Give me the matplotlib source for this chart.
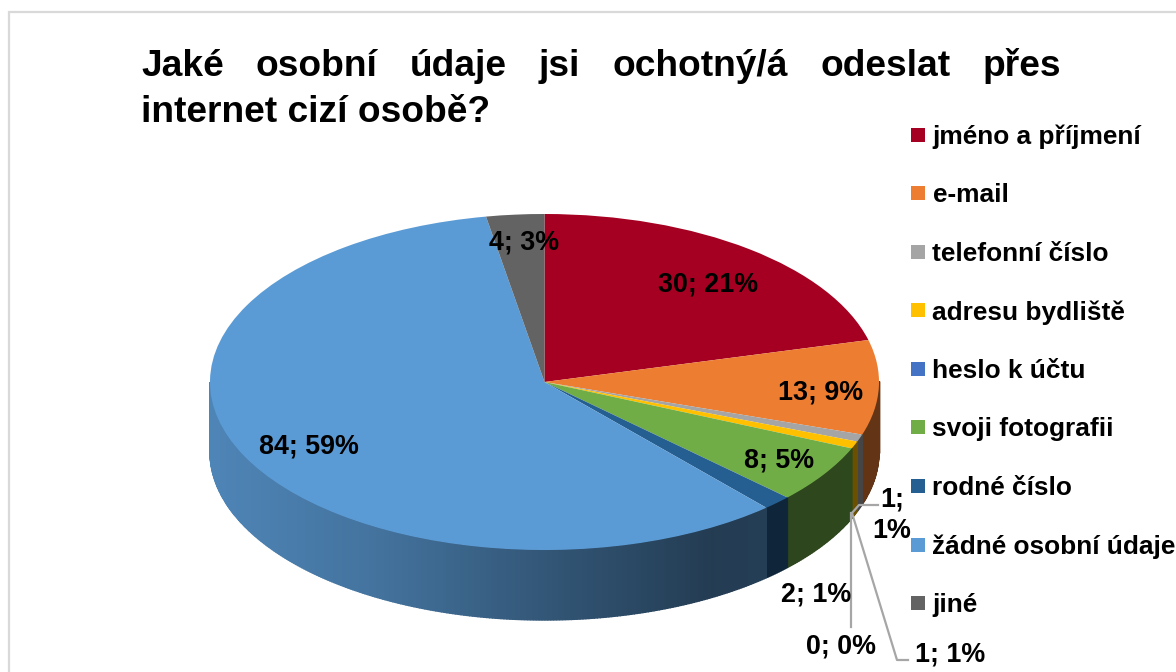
import numpy as np
import matplotlib
matplotlib.use("Agg")
import matplotlib.pyplot as plt
from matplotlib.lines import Line2D
from matplotlib.patches import Polygon

# ---- data ----
categories = ["jméno a příjmení", "e-mail", "telefonní číslo", "adresu bydliště",
              "heslo k účtu", "svoji fotografii", "rodné číslo",
              "žádné osobní údaje", "jiné"]
values = [30, 13, 1, 1, 0, 8, 2, 84, 4]
percents = [21, 9, 1, 1, 0, 5, 1, 59, 3]
colors = ["#A50021", "#ED7D31", "#A5A5A5", "#FFC000", "#4472C4",
          "#70AD47", "#255E91", "#5B9BD5", "#636363"]
title_line1 = ["Jaké", "osobní", "údaje", "jsi", "ochotný/á", "odeslat", "přes"]
title_line2 = "internet cizí osobě?"

# ---- layout (pixels of the 1176x672 canvas) ----
W, H = 1176, 672
CX, CY, RX, RY, DEPTH = 544.5, 382, 334.5, 168, 70
FONT = "Liberation Sans"

fig = plt.figure(figsize=(W / 100, H / 100), dpi=100, facecolor="white")
ax = fig.add_axes([0, 0, 1, 1])


def sx(px):
    return (px - CX) / RX


def sy(py):
    return (CY - py) / RY


# side wall, from the same slice angles as the top face
depth = DEPTH / RY
cum = np.concatenate([[0], np.cumsum(values)]) / sum(values) * 360
for i, col in enumerate(colors):
    a0, a1 = 90 - cum[i], 90 - cum[i + 1]
    if a0 == a1:
        continue
    edges = np.arange(a1, a0, 0.5)
    edges = np.append(edges, a0)
    base = np.array(matplotlib.colors.to_rgb(col))
    for t0, t1 in zip(edges[:-1], edges[1:]):
        mid = np.radians((t0 + t1) / 2)
        if np.sin(mid) > 0.001:
            continue
        shade = np.interp(np.cos(mid), [-1, -0.5, 0, 0.5, 1], [0.86, 0.74, 0.56, 0.39, 0.42])
        c = base * shade
        r0, r1 = np.radians(t0), np.radians(t1)
        pts = [(np.cos(r0), np.sin(r0)), (np.cos(r1), np.sin(r1)),
               (np.cos(r1), np.sin(r1) - depth), (np.cos(r0), np.sin(r0) - depth)]
        ax.add_patch(Polygon(pts, closed=True, facecolor=c, edgecolor=c, lw=1.0, zorder=1))

# top face
ax.pie(values, colors=colors, startangle=90, counterclock=False, radius=1,
       wedgeprops={"linewidth": 0, "zorder": 2})
ax.set_aspect("auto")
ax.set_xlim(sx(0), sx(W))
ax.set_ylim(sy(H), sy(0))
ax.axis("off")

# outer frame
ax.plot([sx(9), sx(9), sx(W)], [sy(H), sy(12), sy(12)], color="#D9D9D9", lw=1.6,
        solid_joinstyle="miter", zorder=0, clip_on=False)

# leader lines
LEADER = "#A6A6A6"
leaders = [([852, 859, 878], [513, 505, 505]),
           ([851, 851], [513, 627]),
           ([852, 897, 908], [513, 660, 660])]
for lx, ly in leaders:
    ax.plot(sx(np.array(lx)), sy(np.array(ly)), color=LEADER, lw=1.6, zorder=3)

# data labels
label_pos = [(708, 285), (821, 392), (950, 655), (892, 515), (841, 646),
             (779, 460), (816, 594), (309, 446), (524, 243)]
for i, (v, p) in enumerate(zip(values, percents)):
    txt = f"{v}; {p}%"
    if i == 3:
        txt = f"{v};\n{p}%"
    ax.text(sx(label_pos[i][0]), sy(label_pos[i][1]), txt, family=FONT, weight="bold",
            fontsize=19.4, ha="center", va="center", color="black", zorder=5,
            linespacing=1.28)

# legend
handles = [Line2D([], [], marker="s", linestyle="none", markersize=9.6,
                  markerfacecolor=c, markeredgecolor=c, markeredgewidth=0) for c in colors]
leg = ax.legend(handles, categories, loc="upper left",
                bbox_to_anchor=(911.5 / W, 1 - 124.5 / H), bbox_transform=fig.transFigure,
                frameon=False, borderpad=0, borderaxespad=0, handlelength=0.5,
                handletextpad=0.3, labelspacing=1.31, prop={"family": FONT, "weight": "bold", "size": 18.9})
leg.set_zorder(6)

# title: first line justified, as in the reference
TITLE_SIZE = 26.7
renderer = fig.canvas.get_renderer()
X0, X1 = 141, 1061
objs = [ax.text(0, sy(76), w, family=FONT, weight="bold", fontsize=TITLE_SIZE, color="black",
                ha="left", va="baseline", zorder=6) for w in title_line1]
widths = [o.get_window_extent(renderer).width for o in objs]
gap = (X1 - X0 - sum(widths)) / (len(objs) - 1)
pos = X0
for o, w in zip(objs, widths):
    o.set_x(sx(pos))
    pos += w + gap
ax.text(sx(X0), sy(122), title_line2, family=FONT, weight="bold", fontsize=TITLE_SIZE,
        color="black", ha="left", va="baseline", zorder=6)

fig.savefig("out.png", dpi=100, facecolor="white")
